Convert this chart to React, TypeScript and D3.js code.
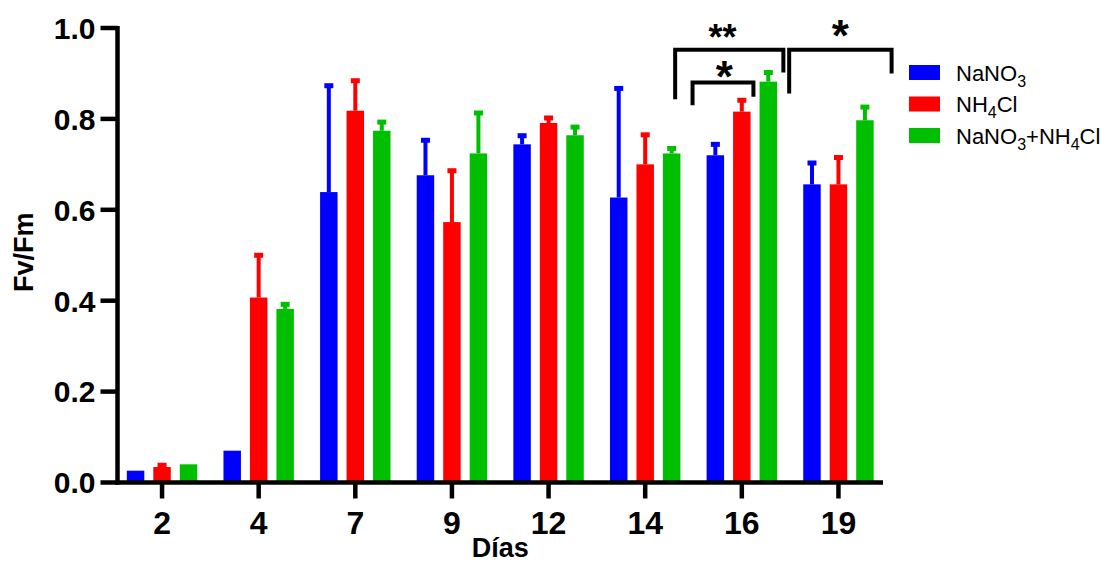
import React, { useRef, useEffect } from 'react';
import * as d3 from 'd3';

const days = ['2', '4', '7', '9', '12', '14', '16', '19'];
const seriesNames = ['NaNO3', 'NH4Cl', 'NaNO3+NH4Cl'];
const colors = ['#0000ff', '#ff0000', '#00bf00'];

// means and upper SD per day
const nano3 = [0.026, 0.07, 0.639, 0.676, 0.744, 0.627, 0.72, 0.656];
const nano3Sd = [0, 0, 0.234, 0.077, 0.019, 0.24, 0.024, 0.047];
const nh4cl = [0.034, 0.407, 0.818, 0.573, 0.791, 0.7, 0.816, 0.656];
const nh4clSd = [0.004, 0.093, 0.066, 0.113, 0.011, 0.065, 0.025, 0.059];
const mix = [0.04, 0.382, 0.774, 0.724, 0.764, 0.724, 0.882, 0.797];
const mixSd = [0, 0.01, 0.019, 0.089, 0.018, 0.011, 0.02, 0.029];

const yTicks = [0, 0.2, 0.4, 0.6, 0.8, 1.0];

// significance brackets, x in group-index units, y in Fv/Fm units
const brackets = [
  { x1: 5.31, x2: 6.43, top: 0.952, left: 0.843, right: 0.902, label: '**', lx: 5.8, ly: 0.989, size: 36 },
  { x1: 5.49, x2: 6.12, top: 0.88, left: 0.83, right: 0.849, label: '*', lx: 5.82, ly: 0.905, size: 44 },
  { x1: 6.49, x2: 7.55, top: 0.952, left: 0.856, right: 0.9, label: '*', lx: 7.02, ly: 0.995, size: 44 },
];

// legend labels split into normal / subscript parts
const legendLabels: [string, boolean][][] = [
  [['NaNO', false], ['3', true]],
  [['NH', false], ['4', true], ['Cl', false]],
  [['NaNO', false], ['3', true], ['+NH', false], ['4', true], ['Cl', false]],
];

const W = 1109;
const H = 563;
const FONT = '"Liberation Sans", Arial, sans-serif';

const Chart = () => {
  const svgRef = useRef<SVGSVGElement>(null);

  useEffect(() => {
    const svg = d3.select(svgRef.current);
    svg.selectAll('*').remove();

    const left = 117.5, right = 883, top = 28, bottom = 482.5;
    const means = [nano3, nh4cl, mix];
    const sds = [nano3Sd, nh4clSd, mixSd];

    const x0 = d3.scaleBand().domain(days).range([left, right]).paddingInner(0.178).paddingOuter(0.05);
    const x1 = d3.scaleBand().domain(seriesNames).range([0, x0.bandwidth()]).paddingInner(0.34).paddingOuter(0.17);
    const y = d3.scaleLinear().domain([0, 1]).range([bottom, top]);
    const centerOf = (i: number) => (x0(days[i]) as number) + x0.bandwidth() / 2;
    const xi = d3.scaleLinear().domain([0, days.length - 1]).range([centerOf(0), centerOf(days.length - 1)]);

    // bars
    const groups = svg.append('g').selectAll('g')
      .data(days)
      .enter()
      .append('g')
      .attr('transform', d => `translate(${x0(d)},0)`);

    seriesNames.forEach((s, si) => {
      const bx = x1(s) as number;
      const bw = x1.bandwidth();
      groups.append('rect')
        .attr('x', bx)
        .attr('width', bw)
        .attr('y', (d, i) => y(means[si][i]))
        .attr('height', (d, i) => bottom - y(means[si][i]))
        .attr('fill', colors[si]);

      groups.filter((d, i) => sds[si][i] > 0)
        .each(function (d) {
          const i = days.indexOf(d);
          const g = d3.select(this);
          const cx = bx + bw / 2;
          const yt = y(means[si][i] + sds[si][i]);
          g.append('line')
            .attr('x1', cx).attr('x2', cx)
            .attr('y1', y(means[si][i])).attr('y2', yt)
            .attr('stroke', colors[si]).attr('stroke-width', 4);
          g.append('rect')
            .attr('x', cx - 4.5).attr('width', 9)
            .attr('y', yt - 2.5).attr('height', 5)
            .attr('fill', colors[si]);
        });
    });

    // y axis
    const yAxis = svg.append('g');
    yAxis.append('line')
      .attr('x1', left).attr('x2', left)
      .attr('y1', top - 2).attr('y2', bottom + 2)
      .attr('stroke', '#000').attr('stroke-width', 4.5);
    yTicks.forEach(t => {
      yAxis.append('line')
        .attr('x1', left - 17).attr('x2', left)
        .attr('y1', y(t)).attr('y2', y(t))
        .attr('stroke', '#000').attr('stroke-width', 4.5);
      yAxis.append('text')
        .attr('x', left - 22).attr('y', y(t))
        .attr('dy', '0.36em')
        .attr('text-anchor', 'end')
        .attr('font-family', FONT).attr('font-weight', 'bold').attr('font-size', 30)
        .text(t.toFixed(1));
    });

    // x axis
    const xAxis = svg.append('g');
    xAxis.append('line')
      .attr('x1', left - 2).attr('x2', right)
      .attr('y1', bottom).attr('y2', bottom)
      .attr('stroke', '#000').attr('stroke-width', 4.5);
    days.forEach((d, i) => {
      const cx = centerOf(i);
      xAxis.append('line')
        .attr('x1', cx).attr('x2', cx)
        .attr('y1', bottom).attr('y2', bottom + 16)
        .attr('stroke', '#000').attr('stroke-width', 4.5);
      xAxis.append('text')
        .attr('x', cx).attr('y', 534)
        .attr('text-anchor', 'middle')
        .attr('font-family', FONT).attr('font-weight', 'bold').attr('font-size', 32)
        .text(d);
    });

    // axis titles
    svg.append('text')
      .attr('x', (left + right) / 2).attr('y', 557)
      .attr('text-anchor', 'middle')
      .attr('font-family', FONT).attr('font-weight', 'bold').attr('font-size', 27)
      .text('Días');
    svg.append('text')
      .attr('transform', `translate(33,${(top + bottom) / 2 - 3}) rotate(-90)`)
      .attr('text-anchor', 'middle')
      .attr('font-family', FONT).attr('font-weight', 'bold').attr('font-size', 27)
      .text('Fv/Fm');

    // significance brackets
    brackets.forEach(b => {
      svg.append('path')
        .attr('d', `M${xi(b.x1)},${y(b.left)}V${y(b.top)}H${xi(b.x2)}V${y(b.right)}`)
        .attr('fill', 'none').attr('stroke', '#000').attr('stroke-width', 4);
      svg.append('text')
        .attr('x', xi(b.lx)).attr('y', y(b.ly) + 0.48 * b.size)
        .attr('text-anchor', 'middle')
        .attr('font-family', FONT).attr('font-weight', 'bold').attr('font-size', b.size)
        .text(b.label);
    });

    // legend
    const legend = svg.append('g');
    legendLabels.forEach((parts, i) => {
      const ly = 72.5 + i * 31.5;
      legend.append('rect')
        .attr('x', 909).attr('y', ly - 7.5)
        .attr('width', 31).attr('height', 15)
        .attr('fill', colors[i]);
      const txt = legend.append('text')
        .attr('x', 956).attr('y', ly + 8)
        .attr('font-family', FONT).attr('font-size', 22);
      let shifted = false;
      parts.forEach(([s, sub]) => {
        const ts = txt.append('tspan').text(s);
        if (sub && !shifted) { ts.attr('dy', 6).attr('font-size', 16); shifted = true; }
        else if (!sub && shifted) { ts.attr('dy', -6); shifted = false; }
        else if (sub) ts.attr('font-size', 16);
      });
    });
  }, []);

  return (
    <svg ref={svgRef} width={W} height={H} style={{ position: 'absolute', left: 0, top: 0, background: '#fff' }}></svg>
  );
};

export default function App() {
  return <Chart />;
}
